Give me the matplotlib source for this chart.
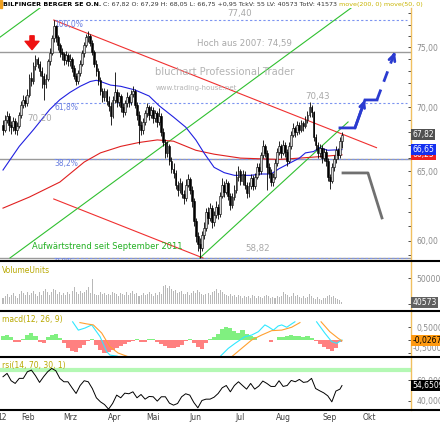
import numpy as np
import matplotlib
matplotlib.use("Agg")
import matplotlib.pyplot as plt
from matplotlib.lines import Line2D
from matplotlib.ticker import FixedLocator, NullFormatter, NullLocator

# Bilfinger Berger, daily candles (trading day index 0..167, mid Jan - 12 Sep 2012)
closes = [68.2, 69.0, 69.3, 68.6, 68.4, 68.9, 68.2, 68.5, 69.4, 70.2,
          70.6, 70.3, 71.0, 72.4, 72.1, 73.4, 74.0, 73.6, 73.0, 72.6,
          71.9, 72.3, 73.8, 74.5, 75.8, 76.9, 75.9, 75.2, 74.6, 74.4,
          73.9, 74.3, 73.8, 74.0, 73.2, 72.6, 72.1, 72.8, 73.6, 74.5,
          75.2, 75.9, 76.0, 75.4, 74.6, 73.6, 73.0, 72.2, 71.3, 70.8,
          71.3, 70.5, 70.1, 69.3, 70.6, 71.2, 70.4, 70.9, 70.0, 69.6,
          70.3, 70.8, 70.4, 71.1, 71.3, 70.2, 69.4, 68.6, 68.2, 68.8,
          69.5, 70.0, 69.4, 69.8, 69.1, 69.5, 68.8, 69.3, 68.0, 67.2,
          66.4, 66.9, 65.8, 65.2, 64.9, 64.0, 63.6, 64.1, 63.3, 63.0,
          64.0, 64.4, 63.6, 62.8, 61.4, 60.3, 59.8, 59.5, 60.4, 60.9,
          62.0, 61.6, 62.3, 61.3, 61.8, 62.4, 61.9, 63.2, 64.0, 63.5,
          64.1, 63.2, 62.5, 63.1, 63.6, 64.6, 65.0, 64.3, 64.8, 64.0,
          63.4, 63.9, 64.5, 63.9, 64.6, 65.3, 65.0, 66.2, 66.9, 66.4,
          65.3, 64.9, 64.2, 64.6, 65.6, 66.5, 66.9, 66.4, 67.0, 66.5,
          65.8, 66.9, 67.8, 68.3, 68.0, 68.6, 68.2, 68.7, 68.5, 69.0,
          69.4, 70.0, 69.6, 67.6, 67.0, 66.4, 66.8, 66.0, 66.5, 65.8,
          64.6, 64.3, 65.3, 65.9, 66.6, 66.2, 67.29, 67.82]
highs = [69.0, 69.4, 69.7, 69.5, 68.9, 69.2, 69.1, 68.8, 69.6, 70.5,
         71.0, 70.9, 71.5, 72.7, 72.9, 73.7, 74.3, 74.2, 73.8, 73.3,
         72.8, 72.7, 74.0, 74.9, 76.1, 77.4, 77.0, 76.1, 75.4, 74.9,
         74.6, 74.7, 74.5, 74.4, 74.2, 73.5, 72.8, 73.1, 73.9, 74.8,
         75.5, 76.2, 76.4, 76.2, 75.6, 74.8, 73.9, 73.2, 72.5, 71.6,
         71.6, 71.5, 70.9, 70.4, 70.9, 72.9, 71.5, 71.2, 71.1, 70.3,
         70.6, 71.2, 71.0, 71.4, 71.7, 71.5, 70.4, 69.7, 68.9, 69.1,
         69.8, 70.3, 70.2, 70.1, 70.0, 69.8, 69.7, 69.9, 69.5, 68.3,
         67.5, 67.3, 67.1, 66.1, 65.6, 65.1, 64.3, 64.5, 64.3, 63.6,
         64.4, 64.8, 64.6, 63.9, 63.0, 61.6, 60.6, 60.2, 60.7, 61.3,
         62.3, 62.4, 62.7, 62.5, 62.1, 62.8, 62.6, 63.5, 64.5, 64.3,
         64.4, 64.3, 63.4, 63.4, 64.0, 65.0, 65.4, 65.2, 65.1, 65.0,
         64.2, 64.2, 64.8, 64.7, 64.9, 65.6, 65.6, 66.5, 67.4, 67.1,
         66.6, 65.6, 65.2, 64.9, 65.9, 66.8, 67.3, 67.1, 67.4, 67.2,
         66.7, 67.2, 68.1, 68.7, 68.5, 68.9, 68.8, 69.0, 68.9, 69.3,
         69.7, 70.43, 70.2, 69.7, 67.9, 67.2, 67.1, 67.0, 66.8, 66.7,
         66.0, 64.8, 65.6, 66.2, 66.9, 66.8, 67.6, 68.05]
lows = [67.8, 68.0, 68.7, 68.1, 67.9, 68.1, 67.9, 67.8, 68.3, 69.1,
        69.9, 70.0, 70.1, 70.8, 71.7, 71.9, 73.1, 73.2, 72.6, 71.6,
        70.6, 71.6, 72.1, 73.5, 74.3, 75.5, 75.5, 74.8, 74.2, 73.9,
        73.5, 73.6, 73.4, 73.4, 72.9, 72.3, 71.8, 71.9, 72.6, 73.4,
        74.2, 75.0, 75.5, 75.1, 74.3, 73.3, 72.6, 71.8, 71.0, 70.4,
        70.5, 70.2, 69.7, 68.6, 69.1, 70.3, 70.0, 70.1, 69.6, 69.2,
        69.4, 70.0, 70.0, 70.2, 70.8, 69.9, 69.0, 67.1, 67.8, 67.9,
        68.6, 69.2, 69.0, 69.1, 68.7, 68.8, 68.4, 68.6, 67.7, 66.9,
        66.0, 66.1, 65.5, 64.9, 64.5, 63.7, 63.2, 63.4, 63.0, 62.6,
        62.8, 63.8, 63.3, 62.4, 61.0, 59.9, 59.3, 58.82, 59.3, 60.1,
        60.7, 61.2, 61.4, 60.9, 61.0, 61.6, 61.5, 61.7, 63.0, 63.1,
        63.3, 62.9, 62.2, 62.3, 62.9, 63.4, 64.3, 64.0, 64.0, 63.7,
        63.0, 63.1, 63.7, 63.6, 63.7, 64.4, 64.7, 64.8, 66.0, 66.1,
        63.6, 64.5, 63.9, 63.9, 64.4, 65.4, 66.2, 66.0, 66.2, 66.1,
        65.4, 65.6, 66.7, 67.6, 67.6, 67.8, 67.9, 68.0, 68.1, 68.3,
        68.7, 69.2, 69.2, 67.3, 66.6, 66.0, 66.1, 65.6, 65.8, 65.4,
        64.3, 63.7, 64.1, 65.0, 65.6, 65.9, 66.0, 66.75]
first_open = 68.6

volume_k = [130, 160, 200, 140, 175, 210, 160, 120, 190, 260,
            210, 180, 240, 170, 220, 260, 190, 150, 230, 180,
            250, 290, 230, 180, 240, 300, 270, 200, 230, 180,
            210, 170, 240, 200, 260, 330, 230, 200, 260, 210,
            240, 270, 330, 220, 480, 200, 170, 180, 230, 190,
            220, 180, 200, 170, 240, 210, 190, 160, 220, 200,
            180, 230, 170, 210, 250, 190, 220, 160, 180, 210,
            170, 200, 230, 190, 160, 210, 180, 240, 200, 350,
            380, 320, 360, 290, 250, 270, 220, 240, 260, 200,
            190, 230, 180, 210, 250, 220, 270, 230, 200, 170,
            190, 210, 180, 230, 250, 300, 220, 270, 240, 200,
            180, 160, 190, 150, 170, 140, 180, 160, 130, 150,
            140, 160, 130, 170, 150, 120, 160, 140, 130, 150,
            170, 150, 120, 140, 130, 160, 140, 150, 240, 200,
            170, 140, 160, 210, 150, 170, 140, 120, 160, 130,
            140, 200, 150, 120, 100, 140, 110, 90, 130, 120,
            150, 170, 140, 160, 120, 110, 90, 40.573]

# moving averages, read at sample days
ma50_days = [0, 8, 15, 23, 28, 33, 38, 43, 46, 48, 53, 58, 65, 72, 77, 84, 90,
             95, 99, 104, 109, 114, 122, 127, 132, 136, 141, 146, 149, 153, 156, 160, 167]
ma50_vals = [65.1, 66.9, 68.2, 69.8, 70.6, 71.2, 71.7, 72.1, 72.2, 72.1, 71.8, 71.7,
             71.4, 70.9, 70.1, 69.2, 68.4, 67.4, 66.4, 65.3, 64.9, 64.7, 64.7, 64.8,
             64.8, 65.2, 65.6, 66.0, 66.4, 66.5, 66.8, 66.6, 66.65]
ma200_days = [0, 13, 28, 40, 48, 58, 67, 76, 84, 95, 104, 117, 136, 146, 155, 167]
ma200_vals = [62.3, 63.1, 64.2, 65.7, 66.4, 66.9, 67.2, 67.4, 67.3, 66.6, 66.3,
              66.0, 65.9, 66.0, 66.1, 66.25]

# macd(12, 26, 9): histogram every second day, lines where inside the panel
hist_days = list(range(0, 167, 2))
hist_vals = [0.15, 0.19, 0.1, -0.06, -0.08, 0.05, 0.2, 0.28, 0.15, -0.08,
             -0.1, 0.1, 0.2, 0.23, 0.08, -0.12, -0.3, -0.42, -0.45, -0.32,
             -0.18, -0.03, 0.02, -0.2, -0.4, -0.5, -0.48, -0.38, -0.3, -0.22,
             -0.15, -0.08, -0.02, 0.02, -0.08, -0.06, 0.02, 0.02, -0.06, -0.15,
             -0.24, -0.3, -0.32, -0.28, -0.18, -0.05, 0.02, -0.12, -0.28, -0.34,
             -0.12, 0.04, 0.1, 0.22, 0.42, 0.51, 0.45, 0.35, 0.28, 0.38,
             0.25, 0.16, 0.1, 0.0, 0.0, 0.0, -0.07, 0.0, 0.13, 0.1,
             0.15, 0.19, 0.15, 0.17, 0.12, 0.15, 0.08, -0.05, -0.15, -0.25,
             -0.34, -0.41, -0.3, -0.08]
nan = float("nan")
macd_days = [34.3, 37.1, 40.4, 43.7, 47.8, 51.1, 52.7, 56.2, nan,
             106.9, 111, 114.3, 119.2, 122.5, 125.8, 129, 130.7, 133.2, 135.6,
             137.3, 139.8, 142.2, 143.8, nan, 154.5, 158.6, 161.9, 164.4, 167]
macd_vals = [0.70, 0.38, 0.46, 0.58, 0.13, -0.45, -0.58, -0.62, nan,
             -0.64, -0.32, -0.13, 0.13, 0.19, 0.32, 0.58, 0.51, 0.38, 0.54,
             0.58, 0.49, 0.62, 0.70, nan, 0.70, 0.26, -0.06, -0.13, 0.0]
signal_days = [37.9, 41.2, 44.5, 48.6, 52.7, 56.7, 61.6, nan,
               112.7, 117.6, 122.5, 127.4, 132.4, 137.3, 142.2, 146.3, nan,
               156.7, 161, 165.2, 167]
signal_vals = [0.67, 0.62, 0.58, 0.27, -0.26, -0.5, -0.64, nan,
               -0.64, -0.32, 0.0, 0.19, 0.36, 0.38, 0.49, 0.67, nan,
               0.70, 0.32, 0.06, -0.03]

# rsi(14), every second day plus the last one
rsi_days = list(range(0, 167, 2)) + [167]
rsi_vals = [63.2, 66.4, 59.3, 56.7, 61.6, 61.6, 68.0, 69.6, 64.2, 57.7,
            63.2, 68.0, 71.2, 69.0, 61.6, 58.3, 58.3, 52.5, 47.0, 54.7,
            59.3, 58.3, 51.8, 42.8, 38.9, 36.3, 31.8, 37.3, 45.4, 42.8,
            47.3, 46.7, 48.6, 42.8, 46.0, 41.5, 44.1, 43.8, 39.6, 43.8,
            43.8, 37.6, 35.7, 37.3, 43.8, 46.7, 45.4, 38.3, 33.1, 40.2,
            41.5, 41.5, 43.4, 47.0, 52.5, 54.7, 48.6, 54.7, 58.3, 54.7,
            51.2, 56.7, 51.2, 54.1, 59.0, 56.7, 53.8, 53.8, 59.3, 53.8,
            54.7, 59.6, 58.3, 60.6, 57.7, 58.3, 61.6, 51.8, 49.6, 47.6,
            44.7, 38.9, 49.3, 51.2, 54.65]

# chart drawings
fib_top, fib_low = 77.40, 58.82
fib_levels = [1.0, 0.618, 0.382, 0.0]
fib_names = ["100,0%", "61,8%", "38,2%", "0,0%"]
fib_start = 25
hoch_2007 = 74.59
red_upper = ([25, 184], [77.4, 66.8])
red_lower = ([25, 98.5], [62.96, 58.82])
green_long = ([3.45, 175.9], [58.82, 79.08])
green_upper = ([-1.5, 20.7], [75.88, 78.82])
green_june = ([97, 170], [58.82, 68.81])
blue_path = ([166, 173.4, 178.3, 184.2], [68.34, 68.34, 70.58, 70.58])
blue_dash = ([184.2, 193.1], [70.58, 74.6])
gray_path = ([167.5, 179.8, 186.7], [64.88, 64.88, 61.6])

month_pos = [-0.3, 12.3, 33, 55.2, 73.9, 94.6, 116.7, 138, 161, 180.3]
month_lab = ["12", "Feb", "Mrz", "Apr", "Mai", "Jun", "Jul", "Aug", "Sep", "Okt"]

W, H = 440, 423


def box(top, bottom, left=0, right=411):
    return [left / W, 1 - bottom / H, (right - left) / W, (bottom - top) / H]


fig = plt.figure(figsize=(W / 100, H / 100), dpi=100)
fig.patch.set_facecolor("white")
ax = fig.add_axes(box(8, 260))
axv = fig.add_axes(box(262, 310), sharex=ax)
axm = fig.add_axes(box(312, 356), sharex=ax)
axr = fig.add_axes(box(358, 410), sharex=ax)

lbl = dict(fontsize=5.5, color="#8c8c8c")
orange_edge = "#f0c060"
for a in (ax, axv, axm, axr):
    for s in ("top", "bottom", "left"):
        a.spines[s].set_visible(False)
    a.spines["right"].set_color(orange_edge)
    a.spines["right"].set_linewidth(1)
    a.yaxis.tick_right()
    a.tick_params(axis="y", which="both", direction="in", length=2, width=0.6,
                  color="#303030", labelsize=5.5, labelcolor="#8c8c8c", pad=4)
    a.tick_params(axis="x", length=0)
    a.set_xlim(-1.48, 201)

# ---- main price panel
ax.set_yscale("log")
ax.set_ylim(58.68, 78.48)
ax.yaxis.set_major_locator(FixedLocator([60, 65, 70, 75]))
ax.yaxis.set_minor_locator(FixedLocator(list(range(59, 79))))
ax.yaxis.set_minor_formatter(NullFormatter())
ax.set_yticklabels(["60,00", "65,00", "70,00", "75,00"])
ax.tick_params(axis="x", labelbottom=False)

days = np.arange(len(closes))
opens = [first_open] + closes[:-1]

# horizontal support lines
for lev in (hoch_2007, fib_low + 0.382 * (fib_top - fib_low), fib_low):
    ax.axhline(lev, color="#9a9a9a", lw=1, zorder=1)
for lev, name in zip(fib_levels, fib_names):
    p = fib_low + lev * (fib_top - fib_low)
    ax.plot([fib_start, 199], [p, p], color="#7b93f0", lw=0.8, ls=(0, (2, 2)), zorder=1)
    ax.text(fib_start + 0.3, p, name, color="#6a7fe0", fontsize=5.5, va="top", ha="left")

for xs, ys in (red_upper, red_lower):
    ax.plot(xs, ys, color="#f03030", lw=0.8, zorder=2)
for xs, ys in (green_long, green_upper, green_june):
    ax.plot(xs, ys, color="#30c030", lw=0.8, zorder=2)

ax.plot(ma200_days, ma200_vals, color="#e02020", lw=0.8, zorder=2)
ax.plot(ma50_days, ma50_vals, color="#2020e0", lw=0.8, zorder=2)

# candles
ax.vlines(days, lows, highs, color="black", lw=0.6, zorder=3)
for i in days:
    o, c = opens[i], closes[i]
    up = c >= o
    ax.bar(i, max(abs(c - o), 0.05), bottom=min(o, c), width=0.85,
           color="#d8d8d8" if up else "black", edgecolor="black", lw=0.4, zorder=4)

# scenario arrows
blue = "#2b3bd0"
ax.plot(*blue_path, color=blue, lw=2, solid_joinstyle="miter", zorder=5)
ax.annotate("", xy=(blue_path[0][2], blue_path[1][2]),
            xytext=(blue_path[0][1], blue_path[1][1]),
            arrowprops=dict(arrowstyle="->", color=blue, lw=2, mutation_scale=9,
                            shrinkA=0, shrinkB=0), zorder=5)
ax.plot(*blue_dash, color=blue, lw=2, dashes=(4, 3), zorder=5)
ax.annotate("", xy=(blue_dash[0][1], blue_dash[1][1]),
            xytext=(blue_dash[0][1] - 0.6, blue_dash[1][1] - 0.3),
            arrowprops=dict(arrowstyle="->", color=blue, lw=2, mutation_scale=11,
                            shrinkA=0, shrinkB=0), zorder=5)
ax.plot(*gray_path, color="#707070", lw=2, zorder=5)

ax.annotate("", xy=(14.3, 74.8), xytext=(14.3, 76.0),
            arrowprops=dict(facecolor="#ee1111", edgecolor="#ee1111", width=3,
                            headwidth=10, headlength=6), zorder=6)

# texts
ax.text(119, 75.35, "Hoch aus 2007: 74,59", color="#a8a8a8", fontsize=6.2, ha="center", va="center")
ax.text(116.7, 77.95, "77,40", color="#a8a8a8", fontsize=6.2, ha="center", va="center")
ax.text(155, 70.85, "70,43", color="#a8a8a8", fontsize=6.2, ha="center", va="center")
ax.text(18.2, 69.1, "70,20", color="#a8a8a8", fontsize=6.2, ha="center", va="center")
ax.text(125.6, 59.45, "58,82", color="#a8a8a8", fontsize=6.2, ha="center", va="center")
ax.text(14.3, 59.57, "Aufwärtstrend seit September 2011", color="#22b022", fontsize=6,
        ha="left", va="center")
ax.text(75, 72.9, "bluchart Professional Trader", color="#b4b4b4", fontsize=7.2,
        ha="left", va="center")
ax.text(75, 71.6, "www.trading-house.net", color="#b4b4b4", fontsize=5,
        ha="left", va="center")

ytr = ax.get_yaxis_transform()
for v, txt, fc in ((66.25, "66,25", "#f02020"), (66.65, "66,65", "#1530f0"),
                   (67.82, "67,82", "#505050")):
    ax.text(1.004, v, txt, transform=ytr, color="white", fontsize=5.5, ha="left",
            va="center", bbox=dict(boxstyle="square,pad=0.15", fc=fc, ec="none"))

# ---- volume
vols = [v * 1000 for v in volume_k]
axv.bar(days, vols, width=0.5, color="#b8b8b8", zorder=2)
axv.set_ylim(-110000, 813000)
axv.set_yticks([0, 500000])
axv.set_yticklabels(["0", "500000"])
axv.yaxis.set_minor_locator(NullLocator())
axv.tick_params(axis="x", labelbottom=False)
axv.text(0.004, 0.92, "VolumeUnits", transform=axv.transAxes, color="#b8a800",
         fontsize=5.5, ha="left", va="top")
axv.text(1.004, 40573, "40573", transform=axv.get_yaxis_transform(), color="white",
         fontsize=5.5, ha="left", va="center",
         bbox=dict(boxstyle="square,pad=0.15", fc="#606060", ec="none"))

# ---- macd
hist_col = ["#80f080" if v >= 0 else "#ff8080" for v in hist_vals]
axm.bar(hist_days, hist_vals, width=2.0, color=hist_col, zorder=2)
axm.plot(macd_days, macd_vals, color="#30e8ff", lw=0.8, zorder=3)
axm.plot(signal_days, signal_vals, color="#ffa030", lw=0.8, zorder=3)
axm.set_ylim(-0.615, 1.077)
axm.set_yticks([0.5, 0, -0.5])
axm.set_yticklabels(["0,5000", "", ""])
axm.tick_params(axis="x", labelbottom=False)
axm.text(0.004, 0.93, "macd(12, 26, 9)", transform=axm.transAxes, color="#b8a800",
         fontsize=5.5, ha="left", va="top")
mtr = axm.get_yaxis_transform()
axm.text(1.004, -0.0267, "-0,0267", transform=mtr, color="black", fontsize=5.5,
         ha="left", va="center", zorder=6,
         bbox=dict(boxstyle="square,pad=0.15", fc="#ff9a10", ec="none"))
axm.text(1.005, -0.17, "-0,5000", transform=mtr, va="top", ha="left", **lbl)

# ---- rsi
axr.axhline(70, color="#b4f8b4", lw=3, zorder=1)
axr.plot(rsi_days, rsi_vals, color="black", lw=0.7, zorder=3)
axr.set_ylim(31.0, 81.3)
axr.set_yticks([40, 60])
axr.set_yticklabels(["40,0000", "60,0000"])
axr.text(0.004, 0.95, "rsi(14, 70, 30, 1)", transform=axr.transAxes, color="#b8a800",
         fontsize=5.5, ha="left", va="top")
axr.text(1.004, rsi_vals[-1], "54,6509", transform=axr.get_yaxis_transform(),
         color="white", fontsize=5.5, ha="left", va="center",
         bbox=dict(boxstyle="square,pad=0.15", fc="black", ec="none"))
axr.set_xticks(month_pos)
axr.set_xticklabels(month_lab)
axr.tick_params(axis="x", labelsize=5.5, labelcolor="#404040", pad=2)

# panel separators
for yp in (261, 311, 357, 410):
    fig.add_artist(Line2D([0, 1], [1 - yp / H] * 2, transform=fig.transFigure,
                          color="black", lw=1.5))

# header line, pieces placed one after the other
fig.add_artist(plt.Rectangle((0, 1 - 8 / H), 2 / W, 8 / H, transform=fig.transFigure,
                             color="#f0a020"))
renderer = fig.canvas.get_renderer()
x_px = 3
for txt, col, wt in (("BILFINGER BERGER SE O.N.", "black", "bold"),
                     (" C: 67,82 O: 67,29 H: 68,05 L: 66,75 +0,95 TckV: 55 LV: 40573 TotV: 41573",
                      "#333333", "normal"),
                     (" move(200, 0) move(50, 0)", "#c8b400", "normal")):
    t = fig.text(x_px / W, 1 - 4.5 / H, txt, color=col, fontsize=4.6, fontweight=wt,
                 va="center", ha="left")
    x_px += t.get_window_extent(renderer).width

fig.savefig("out.png", dpi=100)
